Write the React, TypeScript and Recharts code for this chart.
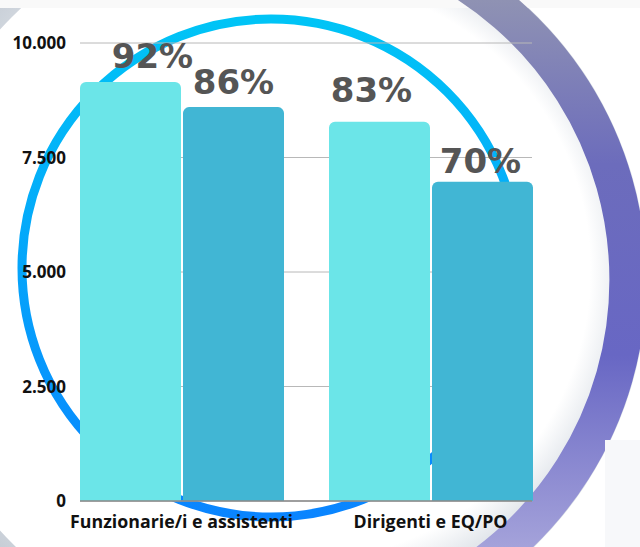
import { Bar, BarChart, CartesianGrid, LabelList, XAxis, YAxis } from "recharts";

const categories = ["Funzionarie/i e assistenti", "Dirigenti e EQ/PO"];
const lightValues = [9150, 8280];
const darkValues = [8600, 6970];
const lightPercent = ["92%", "83%"];
const darkPercent = ["86%", "70%"];
const yTicks = [0, 2500, 5000, 7500, 10000];

// small nudges so the big percentage labels sit like in the original slide
const lightNudge = [
  { dx: 22, dy: 14 },
  { dx: -8, dy: 20 },
];
const darkNudge = [
  { dx: 0, dy: 13 },
  { dx: -2, dy: 9 },
];

const data = categories.map((name, i) => ({
  name,
  light: lightValues[i],
  dark: darkValues[i],
}));

const thousands = (v: number) => String(v).replace(/\B(?=(\d{3})+(?!\d))/g, ".");

const yTickFont = { fontFamily: "'Open Sans', sans-serif", fontWeight: 700, fontSize: 17, fill: "#111" };
const xTickFont = { ...yTickFont, fontSize: 17.8 };

function percentLabel(labels: string[], nudge: { dx: number; dy: number }[]) {
  return (props: any) => {
    const { x, y, width, index } = props;
    const n = nudge[index] ?? { dx: 0, dy: 12 };
    return (
      <text
        x={Number(x) + Number(width) / 2 + n.dx}
        y={Number(y) - n.dy}
        textAnchor="middle"
        fontFamily="'DejaVu Sans', sans-serif"
        fontWeight={700}
        fontSize={34}
        fill="#555555"
      >
        {labels[index]}
      </text>
    );
  };
}

// outer purple arc, right side only
const purpleArc = "M 425 -39.5 A 353 353 0 0 1 425 599.5";
// everything right of the purple ring stays white
const outerWhite =
  "M 380 0 H 640 V 547 H 380 Z M 275 -92 A 372 372 0 0 1 275 652 A 372 372 0 0 1 275 -92 Z";

function Backdrop() {
  return (
    <svg width={640} height={547} style={{ position: "absolute", left: 0, top: 0 }}>
      <defs>
        <radialGradient id="bg" gradientUnits="userSpaceOnUse" cx={300} cy={270} r={440}>
          <stop offset="0.66" stopColor="#ffffff" />
          <stop offset="0.74" stopColor="#e3e7ec" />
          <stop offset="1" stopColor="#bcc4ce" />
        </radialGradient>
        <linearGradient id="purple" gradientUnits="userSpaceOnUse" x1="0" y1="0" x2="0" y2="547">
          <stop offset="0" stopColor="#8f92b3" />
          <stop offset="0.3" stopColor="#6c6cbc" />
          <stop offset="0.65" stopColor="#6867c4" />
          <stop offset="1" stopColor="#a4a2da" />
        </linearGradient>
        <linearGradient id="blue" gradientUnits="userSpaceOnUse" x1="0" y1="20" x2="0" y2="520">
          <stop offset="0" stopColor="#00c4f6" />
          <stop offset="1" stopColor="#0a84ff" />
        </linearGradient>
      </defs>
      <rect width={640} height={547} fill="url(#bg)" />
      <path d={outerWhite} fill="#ffffff" fillRule="evenodd" />
      <rect width={640} height={8} fill="#f9f9f9" />
      <path d={purpleArc} fill="none" stroke="url(#purple)" strokeWidth={37} />
      <rect x={605} y={440} width={35} height={107} fill="#f7f8fa" />
      <circle cx={271} cy={268} r={249} fill="none" stroke="url(#blue)" strokeWidth={9} />
    </svg>
  );
}

export default function App() {
  return (
    <div style={{ position: "absolute", left: 0, top: 0, width: 640, height: 547, overflow: "hidden" }}>
      <Backdrop />
      <div style={{ position: "absolute", left: 0, top: 0 }}>
        <BarChart
          width={640}
          height={547}
          data={data}
          margin={{ top: 43, right: 108, bottom: 16, left: 10 }}
          barCategoryGap={23}
          barGap={2}
        >
          <CartesianGrid vertical={false} stroke="#b8b8b8" />
          <XAxis
            dataKey="name"
            height={30}
            padding={{ left: -23, right: -23 }}
            tickLine={false}
            tickSize={0}
            tickMargin={14}
            axisLine={{ stroke: "#8a8a8a", strokeWidth: 1.5 }}
            tick={xTickFont}
            interval={0}
          />
          <YAxis
            width={70}
            domain={[0, 10000]}
            ticks={yTicks}
            tickFormatter={thousands}
            axisLine={false}
            tickLine={false}
            tickSize={0}
            tickMargin={14}
            tick={yTickFont}
          />
          <Bar dataKey="light" fill="#6be5e8" radius={[6, 6, 0, 0]} isAnimationActive={false}>
            <LabelList dataKey="light" content={percentLabel(lightPercent, lightNudge)} />
          </Bar>
          <Bar dataKey="dark" fill="#41b6d4" radius={[6, 6, 0, 0]} isAnimationActive={false}>
            <LabelList dataKey="dark" content={percentLabel(darkPercent, darkNudge)} />
          </Bar>
        </BarChart>
      </div>
    </div>
  );
}
